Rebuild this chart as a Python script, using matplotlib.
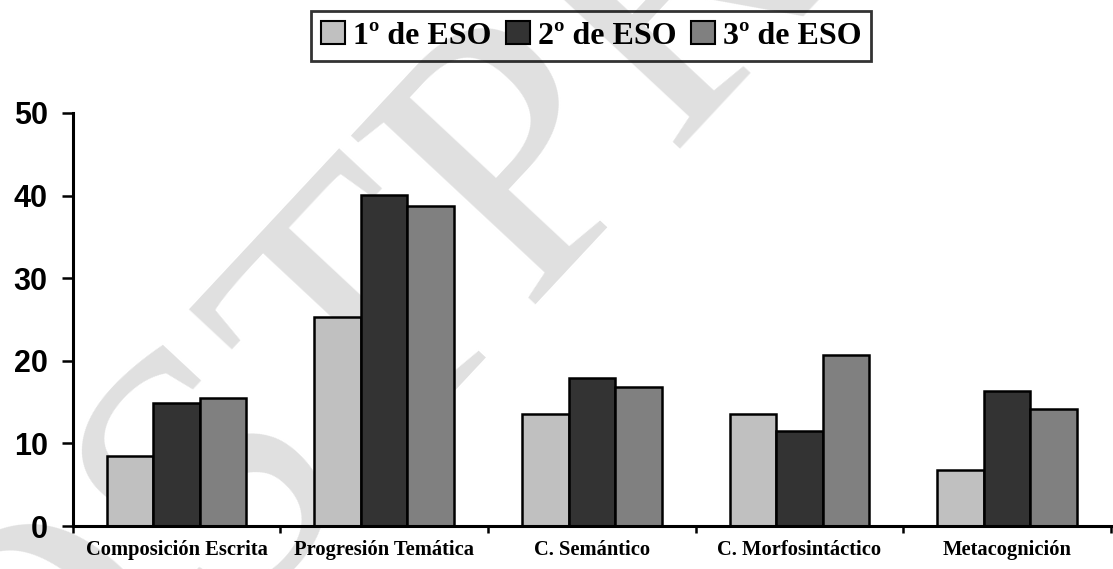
import numpy as np
import matplotlib
matplotlib.use("Agg")
import matplotlib.pyplot as plt
from matplotlib.patches import Patch

categories = ["Composición Escrita", "Progresión Temática", "C. Semántico",
              "C. Morfosintáctico", "Metacognición"]
series_names = ["1º de ESO", "2º de ESO", "3º de ESO"]
eso1 = [8.5, 25.3, 13.5, 13.5, 6.8]
eso2 = [14.9, 40.1, 17.9, 11.5, 16.4]
eso3 = [15.5, 38.8, 16.8, 20.7, 14.2]
y_ticks = [0, 10, 20, 30, 40, 50]

colors = ["#c0c0c0", "#333333", "#808080"]
W, H = 1113, 569
fig = plt.figure(figsize=(W / 100, H / 100), dpi=100)
fig.patch.set_facecolor("white")

# faint diagonal watermark behind the plot
fig.text(515 / W, 1 - 180 / H, "POSTPRINT", fontsize=275, family="Liberation Serif",
         color="#e0e0e0", rotation=47, rotation_mode="anchor",
         ha="center", va="center", zorder=0)

ax = fig.add_axes([72.7 / W, 1 - 526 / H, (1111 - 72.7) / W, (526 - 113) / H])
ax.set_zorder(1)
ax.patch.set_alpha(0)

x = np.arange(len(categories))
bw = 0.224
for i, (vals, c) in enumerate(zip([eso1, eso2, eso3], colors)):
    ax.bar(x + (i - 1) * bw, vals, width=bw, color=c, edgecolor="black",
           linewidth=1.8, zorder=2)

ax.set_xlim(-0.5, len(categories) - 0.5)
ax.set_ylim(0, 50)
ax.set_yticks(y_ticks)
ax.set_yticklabels([str(t) for t in y_ticks], fontsize=22, fontweight="bold",
                   family="Liberation Sans")
ax.tick_params(axis="y", direction="out", length=8, width=1.8, pad=10)

# category ticks sit on the boundaries between groups
ax.set_xticks(np.arange(-0.5, len(categories), 1.0))
ax.set_xticklabels([])
ax.set_xticks(x, minor=True)
ax.set_xticklabels(categories, minor=True, fontsize=14.8, fontweight="bold",
                   family="Liberation Serif")
ax.tick_params(axis="x", which="major", direction="out", length=5, width=1.8)
ax.tick_params(axis="x", which="minor", length=0, pad=10)

for s in ["top", "right"]:
    ax.spines[s].set_visible(False)
for s in ["left", "bottom"]:
    ax.spines[s].set_linewidth(2.2)

handles = [Patch(facecolor=c, edgecolor="black", linewidth=1.5) for c in colors]
leg = fig.legend(handles, series_names, loc="center",
                 bbox_to_anchor=(591 / W, 1 - 36 / H), ncol=3, frameon=True,
                 prop={"family": "Liberation Serif", "weight": "bold", "size": 23},
                 handlelength=0.75, handleheight=0.75, handletextpad=0.25,
                 columnspacing=0.45, borderpad=0.3, fancybox=False,
                 borderaxespad=0)
leg.get_frame().set_edgecolor("black")
leg.get_frame().set_linewidth(2)
leg.get_frame().set_facecolor("none")

fig.savefig("out.png", dpi=100)
